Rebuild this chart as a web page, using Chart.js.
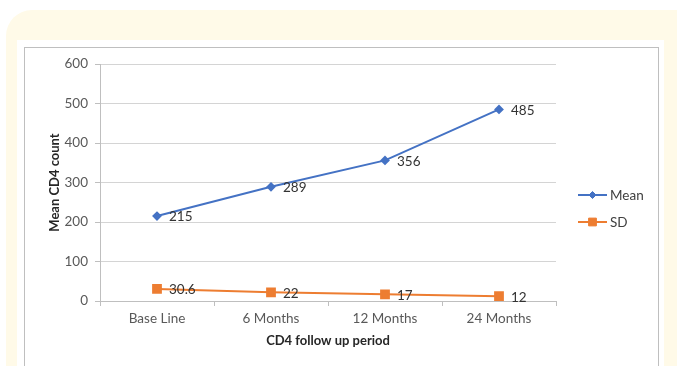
<!DOCTYPE html>
<html>
<head>
<meta charset="utf-8">
<script src="https://cdn.jsdelivr.net/npm/chart.js@4/dist/chart.umd.min.js"></script>
<style>
  html, body { margin: 0; padding: 0; background: #ffffff; }
  body { width: 677px; height: 366px; position: relative; overflow: hidden; }
  .card { position: absolute; left: 6px; top: 10px; width: 700px; height: 400px;
          background: #fffae8; border-radius: 26px; }
  .inner { position: absolute; left: 17px; top: 40px; width: 647px; height: 340px; background: #ffffff; }
  .frame { position: absolute; left: 24px; top: 47px; width: 635px; height: 340px;
           border: 1px solid #bfbfbf; box-sizing: border-box; }
  #wrap { position: absolute; left: 0; top: 0; width: 677px; height: 366px; }
</style>
</head>
<body>
<div class="card"></div>
<div class="inner"></div>
<div class="frame"></div>
<div id="wrap"><canvas id="chart" width="677" height="366"></canvas></div>
<script>
// CD4 follow-up periods and the mean / SD counts measured at each
const periods = ['Base Line', '6 Months', '12 Months', '24 Months'];
const meanCD4 = [215, 289, 356, 485];
const sdCD4 = [30.6, 22, 17, 12];
const yTicks = [0, 100, 200, 300, 400, 500, 600];

const FONT = "Lato, 'Liberation Sans', sans-serif";

// value labels written just right of each point
const valueLabels = {
  id: 'valueLabels',
  afterDatasetsDraw(chart) {
    const ctx = chart.ctx;
    ctx.save();
    ctx.font = '13.5px ' + FONT;
    ctx.fillStyle = '#333333';
    ctx.textAlign = 'left';
    ctx.textBaseline = 'middle';
    chart.data.datasets.forEach((ds, i) => {
      chart.getDatasetMeta(i).data.forEach((pt, j) => {
        ctx.fillText(String(ds.data[j]), pt.x + 12, pt.y + 1);
      });
    });
    ctx.restore();
  }
};

// legend on the right: short line with the series marker, then its name
const sideLegend = {
  id: 'sideLegend',
  afterDraw(chart) {
    const ctx = chart.ctx;
    const x0 = 578, x1 = 607;
    const rows = [195, 222];
    ctx.save();
    chart.data.datasets.forEach((ds, i) => {
      const y = rows[i];
      ctx.strokeStyle = ds.borderColor;
      ctx.lineWidth = 2;
      ctx.beginPath();
      ctx.moveTo(x0, y);
      ctx.lineTo(x1, y);
      ctx.stroke();
      ctx.fillStyle = ds.pointBackgroundColor;
      ctx.strokeStyle = ds.pointBorderColor;
      ctx.lineWidth = 1;
      Chart.helpers.drawPoint(ctx, { pointStyle: ds.pointStyle, radius: ds.pointRadius, rotation: 0, borderWidth: 1 }, (x0 + x1) / 2, y);
      ctx.fillStyle = '#404040';
      ctx.font = '13.5px ' + FONT;
      ctx.textAlign = 'left';
      ctx.textBaseline = 'middle';
      ctx.fillText(ds.label, x1 + 3, y + 1);
    });
    ctx.restore();
  }
};

new Chart(document.getElementById('chart'), {
  type: 'line',
  data: {
    labels: periods,
    datasets: [
      {
        label: 'Mean',
        data: meanCD4,
        borderColor: '#4472c4',
        backgroundColor: '#4472c4',
        pointBackgroundColor: '#4472c4',
        pointBorderColor: '#4472c4',
        pointStyle: 'rectRot',
        pointRadius: 3.5,
        borderWidth: 2,
        tension: 0
      },
      {
        label: 'SD',
        data: sdCD4,
        borderColor: '#ed7d31',
        backgroundColor: '#ed7d31',
        pointBackgroundColor: '#ed7d31',
        pointBorderColor: '#ed7d31',
        pointStyle: 'rect',
        pointRadius: 5.5,
        borderWidth: 2,
        tension: 0
      }
    ]
  },
  options: {
    responsive: false,
    animation: false,
    events: [],
    layout: { padding: { left: 44, right: 121, top: 64, bottom: 15 } },
    plugins: {
      legend: { display: false },
      tooltip: { enabled: false }
    },
    scales: {
      x: {
        offset: true,
        afterFit(s) { s.height = 50; },
        grid: {
          offset: true,
          drawOnChartArea: false,
          drawTicks: true,
          tickLength: 5,
          color: '#bfbfbf'
        },
        border: { color: '#bfbfbf', width: 1 },
        ticks: { color: '#595959', font: { family: FONT, size: 13.5 }, padding: 5, maxRotation: 0 },
        title: {
          display: true,
          text: 'CD4 follow up period',
          color: '#262626',
          font: { family: FONT, size: 13, weight: 'bold' },
          padding: { top: 0, bottom: 2 }
        }
      },
      y: {
        min: 0,
        max: 600,
        afterFit(s) { s.width = 56; },
        afterBuildTicks(s) { s.ticks = yTicks.map(v => ({ value: v })); },
        grid: { color: '#d4d4d4', tickLength: 5, drawTicks: true, tickColor: '#bfbfbf' },
        border: { color: '#bfbfbf', width: 1 },
        ticks: { color: '#595959', font: { family: FONT, size: 13.5 }, padding: 7 },
        title: {
          display: true,
          text: 'Mean CD4 count',
          color: '#262626',
          font: { family: FONT, size: 13, weight: 'bold' },
          padding: { top: 3, bottom: 0 }
        }
      }
    }
  },
  plugins: [valueLabels, sideLegend]
});
</script>
</body>
</html>
